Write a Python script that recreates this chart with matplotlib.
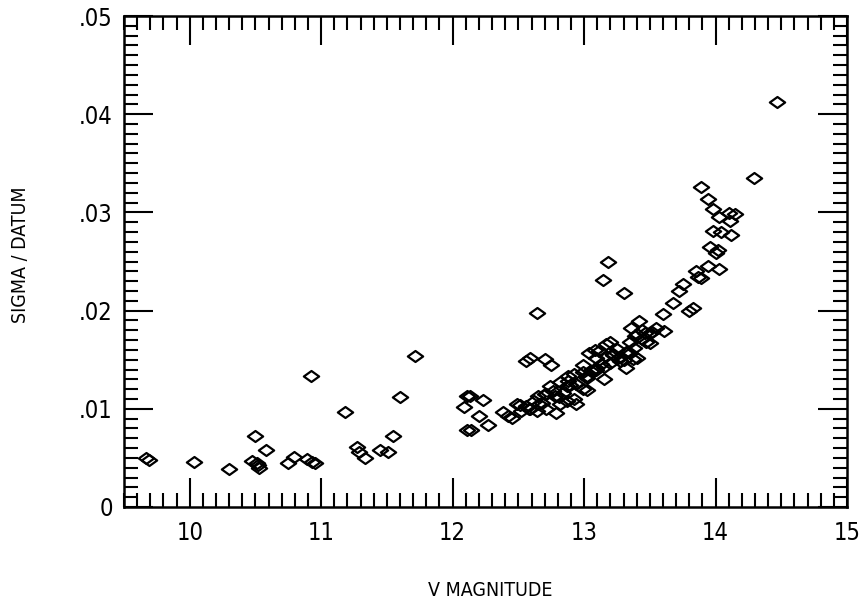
import numpy as np
import matplotlib
matplotlib.use('Agg')
import matplotlib.pyplot as plt
from matplotlib.ticker import MultipleLocator, FuncFormatter
from matplotlib.path import Path

# V magnitude and sigma per datum
v_mag = [
    9.665, 9.69, 10.03, 10.30, 10.50, 10.58, 10.47, 10.51, 10.53, 10.52,
    10.75, 10.79, 10.89, 10.93, 10.95, 10.92,
    11.18, 11.27, 11.29, 11.33, 11.45, 11.51, 11.55, 11.60, 11.71,
    12.09, 12.11, 12.11, 12.14, 12.13, 12.20, 12.23, 12.27,
    12.38, 12.42, 12.45, 12.49, 12.52, 12.58, 12.59, 12.56, 12.59, 12.64,
    12.70, 12.75, 12.65, 12.68, 12.66, 12.71, 12.71, 12.74, 12.78, 12.79,
    12.82, 12.84, 12.87, 12.89, 12.92, 12.92, 12.94, 12.94, 12.99, 12.99,
    13.02, 13.02, 13.02, 12.99, 13.08, 13.09, 13.09, 13.11, 13.15, 13.15,
    13.17, 13.17, 13.20, 13.20, 13.25, 13.27, 13.30, 13.32, 13.32, 13.35,
    13.35, 13.37, 13.40, 13.40, 13.42, 13.46, 13.47, 13.50, 13.52, 13.36,
    13.145, 13.18, 13.30,
    13.60, 13.61, 13.68, 13.72, 13.75, 13.80, 13.83,
    13.85, 13.89, 13.94, 14.03, 13.87,
    13.96, 14.00, 13.98, 14.04, 14.12, 14.02,
    13.89, 13.94, 13.98, 14.03, 14.10, 14.15, 14.11,
    14.29, 14.47,
    12.62, 12.76, 12.81, 12.88, 13.05, 13.13, 13.22, 13.28, 13.38, 13.44,
    12.51, 12.56, 12.64, 12.70, 12.82, 12.87, 12.88, 13.04, 13.09, 13.22,
    13.26, 13.39, 13.44, 13.50, 13.55,
]
sigma = [
    0.0050, 0.0048, 0.0046, 0.0039, 0.0072, 0.0058, 0.0047, 0.0045, 0.0040, 0.0043,
    0.0045, 0.0051, 0.0049, 0.0046, 0.0045, 0.0133,
    0.0097, 0.0061, 0.0056, 0.0050, 0.0058, 0.0056, 0.0072, 0.0112, 0.0154,
    0.0102, 0.0113, 0.0078, 0.0078, 0.0113, 0.0093, 0.0109, 0.0083,
    0.0097, 0.0093, 0.0091, 0.0105, 0.0098, 0.0100, 0.0100, 0.0149, 0.0152, 0.0198,
    0.0151, 0.0145, 0.0113, 0.0106, 0.0105, 0.0115, 0.0100, 0.0123, 0.0113, 0.0096,
    0.0127, 0.0116, 0.0108, 0.0124, 0.0110, 0.0135, 0.0125, 0.0105, 0.0145, 0.0120,
    0.0133, 0.0131, 0.0119, 0.0137, 0.0160, 0.0142, 0.0140, 0.0159, 0.0130, 0.0143,
    0.0166, 0.0154, 0.0147, 0.0168, 0.0161, 0.0149, 0.0150, 0.0142, 0.0158, 0.0157,
    0.0168, 0.0151, 0.0152, 0.0176, 0.0189, 0.0177, 0.0168, 0.0167, 0.0178, 0.0182,
    0.0231, 0.0249, 0.0218,
    0.0197, 0.0179, 0.0208, 0.0220, 0.0227, 0.0200, 0.0203,
    0.0240, 0.0233, 0.0245, 0.0242, 0.0234,
    0.0265, 0.0259, 0.0281, 0.0280, 0.0277, 0.0262,
    0.0326, 0.0314, 0.0303, 0.0295, 0.0299, 0.0298, 0.0291,
    0.0335, 0.0412,
    0.0108, 0.0118, 0.0112, 0.0128, 0.0138, 0.0146, 0.0156, 0.0153, 0.0162, 0.0171,
    0.0104, 0.0103, 0.0098, 0.0115, 0.0105, 0.0123, 0.0133, 0.0157, 0.0152, 0.0155,
    0.0152, 0.0174, 0.0180, 0.0177, 0.0182,
]

# flattened open diamond
diamond = Path([(-1, 0), (0, 0.72), (1, 0), (0, -0.72), (-1, 0)],
               [Path.MOVETO, Path.LINETO, Path.LINETO, Path.LINETO, Path.CLOSEPOLY])

font = ['DejaVu Sans']

fig = plt.figure(figsize=(8.63, 6.06), dpi=100)
ax = fig.add_axes([124 / 863, 1 - 507 / 606, (847 - 124) / 863, (507 - 16) / 606])

ax.plot(v_mag, sigma, linestyle='none', marker=diamond, markersize=11,
        markerfacecolor='none', markeredgecolor='black', markeredgewidth=1.6)

ax.set_xlim(9.5, 15)
ax.set_ylim(0, 0.05)
ax.xaxis.set_major_locator(MultipleLocator(1))
ax.xaxis.set_minor_locator(MultipleLocator(0.1))
ax.yaxis.set_major_locator(MultipleLocator(0.01))
ax.yaxis.set_minor_locator(MultipleLocator(0.001))


def yfmt(v, pos):
    if abs(v) < 1e-9:
        return '0'
    return ('%.2f' % v)[1:]


ax.yaxis.set_major_formatter(FuncFormatter(yfmt))
ax.tick_params(which='both', direction='in', top=True, right=True, width=1.5,
               labelsize=17)
ax.tick_params(axis='x', pad=10)
ax.tick_params(axis='y', pad=8)
ax.tick_params(which='major', length=21)
ax.tick_params(which='minor', length=10)
for lab in ax.get_xticklabels() + ax.get_yticklabels():
    lab.set_family(font)
    lab.set_stretch('condensed')
for s in ax.spines.values():
    s.set_linewidth(1.8)

fig.text(490 / 863, 1 - 590 / 606, 'V MAGNITUDE', ha='center', va='center',
         family=font, stretch='condensed', fontsize=14)
fig.text(20 / 863, 1 - 255 / 606, 'SIGMA / DATUM', ha='center', va='center',
         rotation=90, family=font, stretch='condensed', fontsize=14)

fig.savefig('out.png', dpi=100)
